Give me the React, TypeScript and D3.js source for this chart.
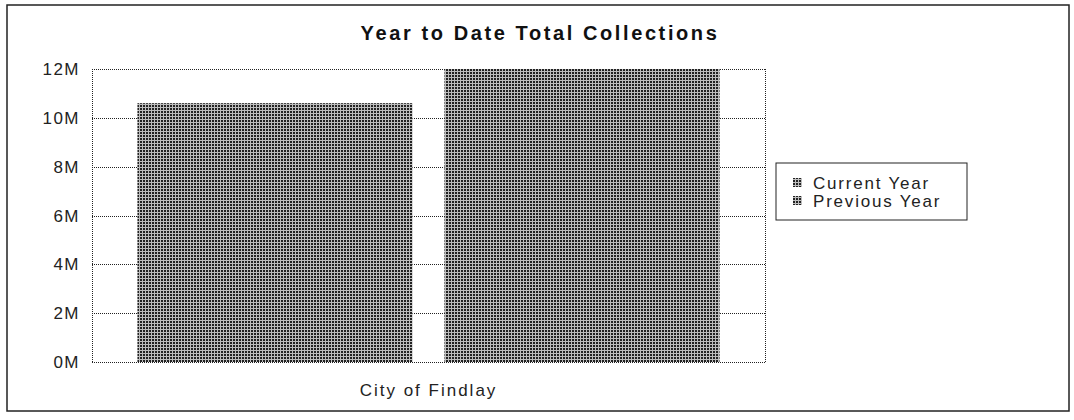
import React, { useEffect, useRef } from "react";
import * as d3 from "d3";

const categories = ["City of Findlay"];
const seriesNames = ["Current Year", "Previous Year"];
const currentYear = [10.6];
const previousYear = [12];
const yTicks = [0, 2, 4, 6, 8, 10, 12];

const W = 1074;
const H = 420;
const FONT = "Arial, 'Liberation Sans', sans-serif";

export default function App() {
  const ref = useRef<SVGSVGElement | null>(null);

  useEffect(() => {
    const svg = d3.select(ref.current);
    svg.selectAll("*").remove();

    const margin = { top: 69, left: 92, right: 309, bottom: 58 };
    const plotW = W - margin.left - margin.right;

    const defs = svg.append("defs");
    const pat = defs.append("pattern")
      .attr("id", "halftone")
      .attr("width", 3)
      .attr("height", 3)
      .attr("patternUnits", "userSpaceOnUse");
    pat.append("rect").attr("width", 3).attr("height", 3).attr("fill", "#bdbdbd");
    pat.append("rect").attr("width", 2).attr("height", 2).attr("fill", "#222");

    // outer frame
    svg.append("rect")
      .attr("x", 7).attr("y", 5)
      .attr("width", 1062).attr("height", 406)
      .attr("fill", "white")
      .attr("stroke", "#222")
      .attr("stroke-width", 1.5);

    svg.append("text")
      .attr("x", 540)
      .attr("y", 40)
      .attr("text-anchor", "middle")
      .attr("font-family", FONT)
      .attr("font-weight", "bold")
      .attr("font-size", 20)
      .attr("letter-spacing", 2.6)
      .attr("fill", "#111")
      .text("Year to Date Total Collections");

    const x0 = d3.scaleBand()
      .domain(categories)
      .range([margin.left, margin.left + plotW]);

    const x1 = d3.scaleBand()
      .domain(seriesNames)
      .range([0, x0.bandwidth()])
      .paddingInner(0.104)
      .paddingOuter(0.148);

    const y = d3.scaleLinear()
      .domain([0, 12])
      .range([H - margin.bottom, margin.top]);

    const g = svg.append("g");

    // grid lines
    g.selectAll(".grid")
      .data(yTicks)
      .join("line")
      .attr("x1", margin.left)
      .attr("x2", margin.left + plotW)
      .attr("y1", d => Math.round(y(d)) + 0.5)
      .attr("y2", d => Math.round(y(d)) + 0.5)
      .attr("stroke", "#222")
      .attr("stroke-width", 1)
      .attr("stroke-dasharray", "1,1");

    [margin.left, margin.left + plotW].forEach(xv => {
      g.append("line")
        .attr("x1", xv + 0.5).attr("x2", xv + 0.5)
        .attr("y1", margin.top).attr("y2", y(0))
        .attr("stroke", "#222")
        .attr("stroke-dasharray", "1,1");
    });

    const rows = categories.map((c, i) => ({
      cat: c,
      values: [
        { key: seriesNames[0], v: currentYear[i] },
        { key: seriesNames[1], v: previousYear[i] },
      ],
    }));

    g.selectAll(".cat")
      .data(rows)
      .join("g")
      .attr("transform", d => `translate(${x0(d.cat)},0)`)
      .selectAll("rect")
      .data(d => d.values)
      .join("rect")
      .attr("x", d => x1(d.key) as number)
      .attr("width", x1.bandwidth())
      .attr("y", d => y(d.v))
      .attr("height", d => y(0) - y(d.v))
      .attr("fill", "url(#halftone)");

    // y axis labels
    g.selectAll(".ylab")
      .data(yTicks)
      .join("text")
      .attr("x", 80)
      .attr("y", d => y(d))
      .attr("dy", "0.36em")
      .attr("text-anchor", "end")
      .attr("font-family", FONT)
      .attr("font-size", 17)
      .attr("letter-spacing", 1.5)
      .attr("fill", "#222")
      .text(d => `${d}M`);

    g.selectAll(".xlab")
      .data(categories)
      .join("text")
      .attr("x", d => (x0(d) as number) + x0.bandwidth() / 2)
      .attr("y", 396)
      .attr("text-anchor", "middle")
      .attr("font-family", FONT)
      .attr("font-size", 17)
      .attr("letter-spacing", 2)
      .attr("fill", "#222")
      .text(d => d);

    // legend
    const lg = svg.append("g").attr("transform", "translate(776,163)");
    lg.append("rect")
      .attr("width", 191)
      .attr("height", 57)
      .attr("fill", "white")
      .attr("stroke", "#222")
      .attr("stroke-width", 1);
    lg.selectAll(".item")
      .data(seriesNames)
      .join("g")
      .attr("transform", (_, i) => `translate(17,${20 + i * 18})`)
      .each(function (d) {
        const it = d3.select(this);
        it.append("rect")
          .attr("x", 0).attr("y", -5)
          .attr("width", 9).attr("height", 9)
          .attr("fill", "url(#halftone)");
        it.append("text")
          .attr("x", 20)
          .attr("y", 0)
          .attr("dy", "0.36em")
          .attr("font-family", FONT)
          .attr("font-size", 17)
          .attr("letter-spacing", 1.8)
          .attr("fill", "#222")
          .text(d);
      });
  }, []);

  return (
    <svg ref={ref} width={W} height={H} style={{ position: "absolute", left: 0, top: 0 }} />
  );
}
